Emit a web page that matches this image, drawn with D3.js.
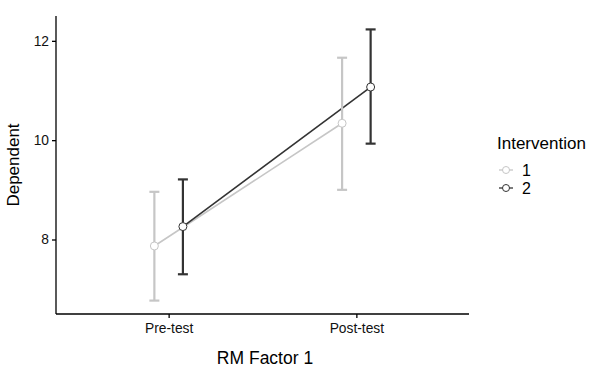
<!DOCTYPE html>
<html><head><meta charset="utf-8">
<script src="https://cdn.jsdelivr.net/npm/d3@7"></script>
<style>body{margin:0;background:#fff}svg{display:block;font-family:"Liberation Sans",Arial,sans-serif}</style>
</head><body><svg id="c" width="590" height="369"></svg>
<script>
const categories = ["Pre-test", "Post-test"];
const groups = ["1", "2"];
const means = { "1": [7.87, 10.34], "2": [8.26, 11.07] };
const lower = { "1": [6.77, 9.00], "2": [7.30, 9.93] };
const upper = { "1": [8.96, 11.66], "2": [9.21, 12.23] };
const yTicks = [8, 10, 12];
const colors = { "1": "#c6c6c6", "2": "#333333" };

const svg = d3.select("#c");
const L = 56, R = 469, T = 16, B = 314;
const x = d3.scaleLinear().domain([0.4, 2.6]).range([L, R]);
const y = d3.scaleLinear().domain([6.5, 12.5]).range([B, T]);
const dodge = 0.076;
const xp = (ci, g) => x(ci + 1 + (g === "1" ? -dodge : dodge));

// axes
const yAxis = svg.append("g").attr("transform", `translate(${L},0)`)
  .call(d3.axisLeft(y).tickValues(yTicks).tickSize(4).tickPadding(3).tickFormat(d3.format("d")));
const xAxis = svg.append("g").attr("transform", `translate(0,${B})`)
  .call(d3.axisBottom(x).tickValues([1, 2]).tickSize(4).tickPadding(5).tickFormat(d => categories[d - 1]));
[yAxis, xAxis].forEach(a => {
  a.select(".domain").attr("stroke", "#000").attr("stroke-width", 1.3);
  a.selectAll(".tick line").attr("stroke", "#000").attr("stroke-width", 1.3);
  a.selectAll(".tick text").attr("fill", "#111").attr("font-size", 13.8);
});
yAxis.select(".domain").attr("d", `M0,${B}V${T}`);
xAxis.select(".domain").attr("d", `M${L},0H${R}`);

// lines
groups.forEach(g => {
  const line = d3.line().x((d, i) => xp(i, g)).y(d => y(d));
  svg.append("path").datum(means[g]).attr("d", line)
    .attr("fill", "none").attr("stroke", colors[g]).attr("stroke-width", 1.6);
});
// error bars
groups.forEach(g => {
  categories.forEach((c, i) => {
    const cx = xp(i, g);
    const eg = svg.append("g").attr("stroke", colors[g]).attr("stroke-width", 2.2).attr("fill", "none");
    eg.append("line").attr("x1", cx).attr("x2", cx).attr("y1", y(lower[g][i])).attr("y2", y(upper[g][i]));
    eg.append("line").attr("x1", cx - 5).attr("x2", cx + 5).attr("y1", y(lower[g][i])).attr("y2", y(lower[g][i]));
    eg.append("line").attr("x1", cx - 5).attr("x2", cx + 5).attr("y1", y(upper[g][i])).attr("y2", y(upper[g][i]));
  });
});
// points
groups.forEach(g => {
  categories.forEach((c, i) => {
    svg.append("circle").attr("cx", xp(i, g)).attr("cy", y(means[g][i])).attr("r", 4)
      .attr("fill", "#fff").attr("stroke", colors[g]).attr("stroke-width", 1);
  });
});

// axis titles
svg.append("text").attr("x", 265).attr("y", 364).attr("text-anchor", "middle")
  .attr("font-size", 17.5).attr("fill", "#000").text("RM Factor 1");
svg.append("text").attr("transform", `translate(19,165) rotate(-90)`).attr("text-anchor", "middle")
  .attr("font-size", 17).attr("fill", "#000").text("Dependent");

// legend
const lg = svg.append("g");
lg.append("text").attr("x", 497).attr("y", 149).attr("font-size", 17).attr("fill", "#000").text("Intervention");
groups.forEach((g, i) => {
  const cy = 170 + i * 18;
  lg.append("line").attr("x1", 499).attr("x2", 513).attr("y1", cy).attr("y2", cy)
    .attr("stroke", colors[g]).attr("stroke-width", 1.3);
  lg.append("circle").attr("cx", 506).attr("cy", cy).attr("r", 3.5)
    .attr("fill", "#fff").attr("stroke", colors[g]).attr("stroke-width", 1);
  lg.append("text").attr("x", 522).attr("y", cy + 5.5).attr("font-size", 16).attr("fill", "#000").text(g);
});
</script></body></html>
